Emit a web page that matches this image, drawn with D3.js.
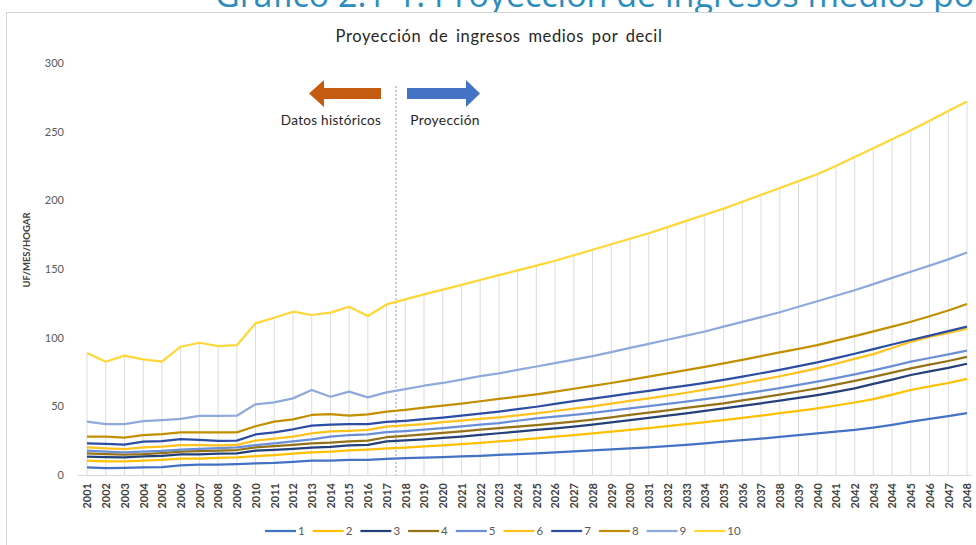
<!DOCTYPE html>
<html>
<head>
<meta charset="utf-8">
<script src="https://cdn.jsdelivr.net/npm/d3@7"></script>
<style>
  body { margin: 0; background: #fff; }
  svg { display: block; font-family: Lato, 'Open Sans', sans-serif; }
</style>
</head>
<body>
<script>
var years = d3.range(2001, 2049);
var yTicks = [0, 50, 100, 150, 200, 250, 300];
var deciles = ['1', '2', '3', '4', '5', '6', '7', '8', '9', '10'];
var colors = ['#4472c4', '#ffc000', '#24407a', '#967217', '#6a8fd6', '#ffc21f', '#2c4da3', '#c28f00', '#8eaadc', '#ffd738'];

var d1 = [5.6, 5, 5.2, 5.5, 5.8, 7, 7.5, 7.5, 8, 8.5, 8.8, 9.5, 10.5, 10.5, 11, 11, 11.8, 12.2, 12.6, 13, 13.5, 14, 14.6, 15.2, 15.8, 16.5, 17.2, 17.9, 18.6, 19.4, 20.2, 21, 22, 23.1, 24.3, 25.4, 26.5, 27.7, 29, 30.3, 31.5, 32.8, 34.5, 36.5, 38.8, 40.8, 42.8, 45];
var d2 = [10.4, 10, 10, 10.5, 11, 12, 12, 12.5, 12.9, 13.8, 14.5, 15.5, 16.5, 17, 18, 18.5, 19.3, 20, 20.8, 21.6, 22.5, 23.4, 24.4, 25.5, 26.7, 27.9, 29.1, 30.3, 31.5, 32.8, 34.2, 35.6, 37, 38.5, 40, 41.6, 43.2, 45, 46.7, 48.5, 50.6, 52.8, 55.2, 58.5, 61.9, 64.5, 67, 70];
var d3v = [13.3, 13, 12.8, 13.5, 14, 15, 15, 15.5, 15.8, 17.7, 18.3, 19, 20, 20.5, 21.5, 22, 24.5, 25.2, 26, 27, 28, 29.2, 30.4, 31.6, 32.8, 34, 35.2, 36.7, 38.3, 40, 41.6, 43.2, 44.9, 46.7, 48.5, 50.3, 52.2, 54.1, 56.1, 58.2, 60.6, 63.1, 66.3, 69.5, 72.8, 75.5, 78, 81];
var d4 = [15.8, 15.2, 14.8, 15.2, 16, 17, 17.3, 17.8, 18.2, 20.1, 21, 22, 23, 23.5, 24.5, 25, 27.5, 28.5, 29.5, 30.7, 31.8, 33, 34.2, 35.3, 36.4, 37.6, 38.8, 40.3, 42, 43.7, 45.4, 47.1, 48.8, 50.5, 52.2, 54.3, 56.4, 58.5, 60.8, 63.1, 65.8, 68.5, 71.5, 74.6, 77.7, 80.3, 83, 86];
var d5 = [17.7, 17, 16.5, 17, 17.5, 18.5, 19, 19.5, 20.2, 21.8, 23, 24.5, 26, 28, 29, 29.5, 31.2, 32, 33, 34.2, 35.4, 36.6, 37.8, 39.5, 41.3, 42.5, 43.7, 45.2, 46.8, 48.5, 50.1, 51.8, 53.5, 55.2, 57, 59, 61.1, 63.3, 65.6, 68, 70.6, 73.3, 76.2, 79.3, 82.5, 85.2, 87.8, 90.5];
var d6 = [20.1, 19.4, 18.9, 20.1, 20.6, 21.8, 21.8, 21.5, 22, 25, 26.5, 27.9, 30.3, 31.8, 32.2, 32.8, 35.2, 36.2, 37.1, 38.5, 39.6, 40.8, 42, 43.4, 44.9, 46.6, 48.3, 50, 51.9, 53.9, 55.8, 57.8, 59.9, 62.1, 64.3, 66.8, 69.3, 71.9, 74.7, 77.7, 81, 84.5, 88, 92.5, 97, 100.5, 103.5, 106.5];
var d7 = [23.1, 22.6, 22.1, 24.3, 24.7, 26.2, 25.5, 24.9, 25, 29.5, 31.1, 33.3, 35.9, 36.7, 37.1, 37.1, 38.6, 39.5, 40.6, 41.8, 43.2, 44.7, 46.2, 48, 49.7, 51.8, 53.8, 55.6, 57.5, 59.5, 61.3, 63.2, 65.1, 67.1, 69.2, 71.6, 74.1, 76.6, 79.3, 82, 85.1, 88.3, 91.6, 95, 98.3, 101.5, 104.8, 108];
var d8 = [28, 27.9, 27.2, 29.1, 29.8, 31.1, 31, 31.1, 31, 35.5, 38.8, 40.5, 43.7, 44.4, 43.2, 44.2, 46.1, 47.4, 49, 50.5, 52, 53.7, 55.4, 57, 58.7, 60.7, 62.8, 64.9, 67, 69.2, 71.6, 74, 76.4, 78.8, 81.3, 83.9, 86.6, 89.3, 91.9, 94.6, 97.8, 101.1, 104.6, 108.1, 111.6, 115.6, 119.8, 124.5];
var d9 = [38.8, 37.1, 37.1, 39.3, 40, 40.8, 43, 43, 43.2, 51.5, 52.9, 55.8, 61.9, 57, 60.7, 56.5, 60.2, 62.5, 65, 67, 69.5, 72, 74, 76.5, 79, 81.5, 84, 86.5, 89.5, 92.5, 95.5, 98.5, 101.5, 104.5, 108, 111.5, 115, 118.5, 122.5, 126.5, 130.5, 134.5, 139, 143.5, 148, 152.5, 157, 162];
var d10 = [88.8, 82.5, 86.9, 84.2, 82.5, 93.4, 96.3, 93.9, 94.5, 110.4, 114.5, 118.9, 116.5, 118.2, 122.5, 115.8, 124.2, 127.9, 131.5, 135, 138.5, 142, 145.5, 149, 152.5, 156, 160, 164, 168, 172, 176, 180.5, 185, 189.5, 194, 199, 204, 209, 214, 219, 225, 231.5, 238, 244.5, 251, 258, 265, 272];

var seriesValues = [d1, d2, d3v, d4, d5, d6, d7, d8, d9, d10];

var width = 976, height = 545;

var svg = d3.select('body')
  .append('svg')
  .attr('width', width)
  .attr('height', height);

// header, cut by the top and right edge like in the scan
svg.append('text')
  .attr('x', 215)
  .attr('y', 7)
  .attr('fill', '#2a8dbd')
  .attr('font-family', "'Open Sans', sans-serif")
  .attr('font-size', 34)
  .text('Gráfico 2.1-1. Proyección de ingresos medios por decil');

// chart frame
svg.append('rect')
  .attr('x', 6.5)
  .attr('y', 12.5)
  .attr('width', 980)
  .attr('height', 540)
  .attr('fill', '#fff')
  .attr('stroke', '#d6d6d6');

var x = d3.scalePoint()
  .domain(years)
  .range([87, 967]);

var y = d3.scaleLinear()
  .domain([0, 300])
  .range([475, 63]);

svg.append('text')
  .attr('x', 499)
  .attr('y', 42)
  .attr('text-anchor', 'middle')
  .attr('font-size', 16.5)
  .attr('letter-spacing', 0.6)
  .attr('word-spacing', 3)
  .attr('fill', '#262626')
  .text('Proyección de ingresos medios por decil');

// drop lines
svg.append('g')
  .selectAll('line')
  .data(years)
  .enter()
  .append('line')
  .attr('x1', function(d) { return x(d); })
  .attr('x2', function(d) { return x(d); })
  .attr('y1', function(d, i) { return y(d10[i]); })
  .attr('y2', y(0))
  .attr('stroke', '#dcdcdc')
  .attr('stroke-width', 1);

// y axis
var yAxis = svg.append('g')
  .attr('transform', 'translate(78,0)')
  .call(d3.axisLeft(y).tickValues(yTicks).tickSize(0).tickPadding(14));
yAxis.select('.domain').remove();
yAxis.selectAll('text')
  .attr('font-family', 'Lato, sans-serif')
  .attr('font-size', 11)
  .attr('fill', '#595959');

svg.append('text')
  .attr('transform', 'translate(30,250) rotate(-90)')
  .attr('text-anchor', 'middle')
  .attr('font-size', 9.5)
  .attr('font-weight', 'bold')
  .attr('fill', '#404040')
  .text('UF/MES/HOGAR');

// x axis
var xAxis = svg.append('g')
  .attr('transform', 'translate(0,' + y(0) + ')')
  .call(d3.axisBottom(x).tickSize(0).tickPadding(8));
xAxis.select('.domain')
  .attr('stroke', '#d9d9d9')
  .attr('d', 'M78,0.5H972');
xAxis.selectAll('text')
  .attr('transform', 'rotate(-90)')
  .attr('text-anchor', 'end')
  .attr('dy', '0.35em')
  .attr('x', -8)
  .attr('y', 0)
  .attr('font-family', 'Lato, sans-serif')
  .attr('font-size', 11)
  .attr('font-weight', 'bold')
  .attr('fill', '#404040');

// boundary between history and projection
svg.append('line')
  .attr('x1', (x(2017) + x(2018)) / 2)
  .attr('x2', (x(2017) + x(2018)) / 2)
  .attr('y1', 86)
  .attr('y2', y(0))
  .attr('stroke', '#9a9a9a')
  .attr('stroke-width', 1)
  .attr('stroke-dasharray', '2,2');

// series lines
var line = d3.line()
  .x(function(d, i) { return x(years[i]); })
  .y(function(d) { return y(d); });

svg.append('g')
  .selectAll('path')
  .data(seriesValues)
  .enter()
  .append('path')
  .attr('d', function(d) { return line(d); })
  .attr('fill', 'none')
  .attr('stroke', function(d, i) { return colors[i]; })
  .attr('stroke-width', 2.25)
  .attr('stroke-linejoin', 'round');

// arrows
svg.append('path')
  .attr('d', 'M309,93.5 L324,80 L324,88 L381,88 L381,99 L324,99 L324,107 Z')
  .attr('fill', '#c55a11');
svg.append('path')
  .attr('d', 'M480,93.5 L466,80 L466,88 L407,88 L407,99 L466,99 L466,107 Z')
  .attr('fill', '#4472c4');

svg.append('text')
  .attr('x', 331)
  .attr('y', 125)
  .attr('text-anchor', 'middle')
  .attr('font-size', 13.5)
  .attr('letter-spacing', 0.3)
  .attr('fill', '#262626')
  .text('Datos históricos');
svg.append('text')
  .attr('x', 445)
  .attr('y', 125)
  .attr('text-anchor', 'middle')
  .attr('font-size', 13.8)
  .attr('letter-spacing', 0.3)
  .attr('fill', '#262626')
  .text('Proyección');

// legend
var legend = svg.append('g')
  .selectAll('g')
  .data(deciles)
  .enter()
  .append('g')
  .attr('transform', function(d, i) { return 'translate(' + (265 + i * 47.7) + ',531)'; });

legend.append('line')
  .attr('x1', 0)
  .attr('x2', 31)
  .attr('stroke', function(d, i) { return colors[i]; })
  .attr('stroke-width', 2.25);

legend.append('text')
  .attr('x', 33)
  .attr('dy', '0.35em')
  .attr('font-size', 11.5)
  .attr('fill', '#595959')
  .text(function(d) { return d; });
</script>
</body>
</html>
